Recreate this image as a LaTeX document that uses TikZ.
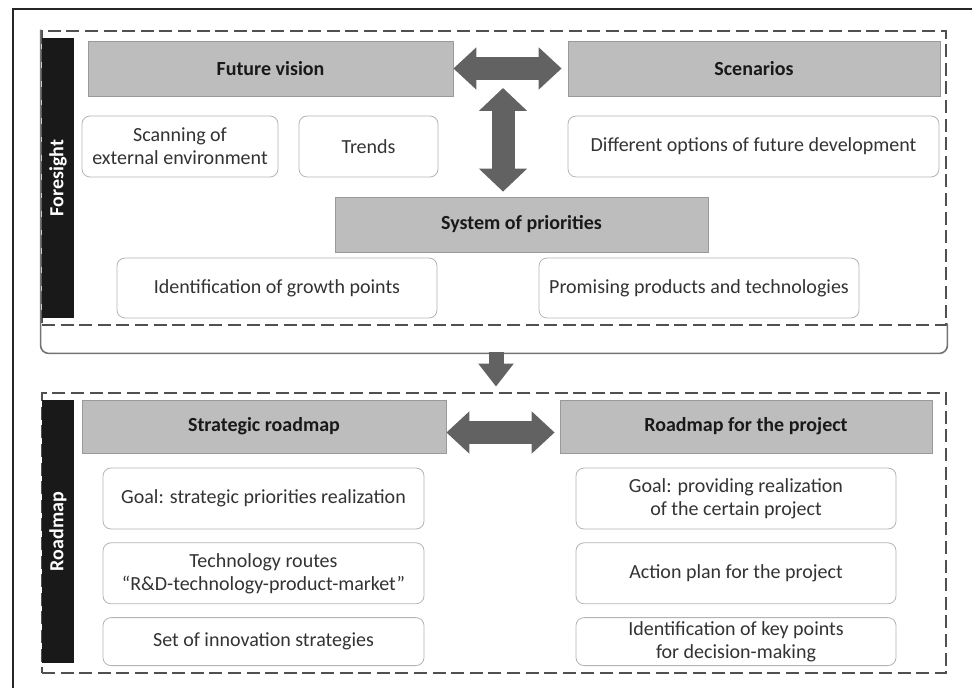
\documentclass[tikz,border=0pt]{standalone}
\usepackage{fontspec}
\setmainfont{Carlito}
\usetikzlibrary{arrows.meta, positioning, calc}

\definecolor{headfill}{HTML}{BDBDBD}
\definecolor{headline}{HTML}{9A9A9A}
\definecolor{itemline}{HTML}{B4B4B4}
\definecolor{fatgray}{HTML}{626262}
\definecolor{dashgray}{HTML}{505050}

\begin{document}
\begin{tikzpicture}[
  x=0.5pt, y=-0.5pt,
  font=\fontsize{10}{11.5}\selectfont,
  head/.style = {draw=headline, fill=headfill, minimum height=27.5pt, inner sep=0pt,
                 font=\fontsize{10}{11.5}\selectfont\bfseries, text=black!90},
  item/.style = {draw=itemline, fill=white, rounded corners=4pt, minimum height=30.5pt,
                 inner sep=0pt, align=center, text=black!80},
  bar/.style = {fill=black!90, text=white, rotate=90, minimum height=16pt, inner sep=0pt,
                font=\fontsize{10}{11.5}\selectfont\bfseries},
  frame/.style = {draw=dashgray, line width=1.4pt, dash pattern=on 6.5pt off 2.8pt},
  fat/.style = {draw=fatgray, line width=11.5pt,
                {Triangle[width=20.5pt,length=11.5pt]}-{Triangle[width=20.5pt,length=11.5pt]}},
  node distance=6.5pt
]
  \useasboundingbox (0,0) rectangle (972,688);

  % outer frame
  \draw[line width=1pt, black!85] (13,688) -- (13,9) -- (972,9);

  % dashed frames
  \node[frame, minimum width=452pt, minimum height=147pt] (foreframe) at (494,178) {};
  \node[frame, minimum width=452pt, minimum height=140pt] (roadframe) at (494,533) {};

  % bracket under the foresight block
  \draw[black!55, line width=0.8pt, rounded corners=4pt]
    (foreframe.north west) -- ($(foreframe.south west)+(0,27)$)
    -- ($(foreframe.south east)+(0,27)$) -- ($(foreframe.south east)+(0,-3)$);
  \coordinate (bend) at (496,352);

  % side bars
  \node[bar, minimum width=140pt] (foresight) at (58,178) {Foresight};
  \node[bar, minimum width=131.5pt] (roadmap) at (58,531.5) {Roadmap};

  % Foresight
  \node[head, minimum width=182.5pt] (vision) at (270.5,68.5) {Future vision};
  \node[head, minimum width=186pt] (scen) at (754,68.5) {Scenarios};
  \node[item, minimum width=98pt] (scan) at (180,146.5) {Scanning of\\external environment};
  \node[item, minimum width=69.5pt] (trends) at (368.5,146.5) {Trends};
  \node[item, minimum width=185.5pt] (options) at (753.5,146.5) {Different options of future development};
  \node[head, minimum width=186.5pt] (prio) at (521.5,224.5) {System of priorities};
  \node[item, minimum width=160pt, minimum height=30pt] (growth) at (277,288) {Identification of growth points};
  \node[item, minimum width=160pt, minimum height=30pt] (promising) at (699,288) {Promising products and technologies};

  \coordinate (hub) at (503,88);
  \draw[fat, shorten >=3pt] (vision.east) -- (scen.west);
  \draw[fat, {Triangle[width=23.5pt,length=11.5pt]}-{Triangle[width=23.5pt,length=11.5pt]},
        shorten >=2.5pt] (hub) -- (hub |- prio.north);

  % Foresight -> Roadmap
  \draw[draw=fatgray, line width=7.5pt, -{Triangle[width=17pt,length=11.5pt]},
        shorten >=2.5pt] (bend) -- (bend |- roadframe.north);

  % Roadmap
  \node[head, minimum width=182pt, minimum height=26.5pt] (strat) at (264,426.5) {Strategic roadmap};
  \node[head, minimum width=186pt, minimum height=26.5pt] (proj) at (746,426.5) {Roadmap for the project};
  \draw[fat, shorten >=2.5pt] ($(strat.east)+(0,6)$) -- ($(proj.west)+(0,6)$);

  \node[item, minimum width=160.5pt] (goalA) at (263.5,498.5) {Goal: strategic priorities realization};
  \node[item, minimum width=160.5pt, below=of goalA] (routes) {Technology routes\\``R\&D-technology-product-market''};
  \node[item, minimum width=160.5pt, minimum height=24pt, below=of routes] (strategies) {Set of innovation strategies};

  \node[item, minimum width=160pt] (goalB) at (736,498.5) {Goal: providing realization\\of the certain project};
  \node[item, minimum width=160pt, below=of goalB] (action) {Action plan for the project};
  \node[item, minimum width=160pt, minimum height=24pt, below=of action] (keypts) {Identification of key points\\for decision-making};
\end{tikzpicture}
\end{document}
